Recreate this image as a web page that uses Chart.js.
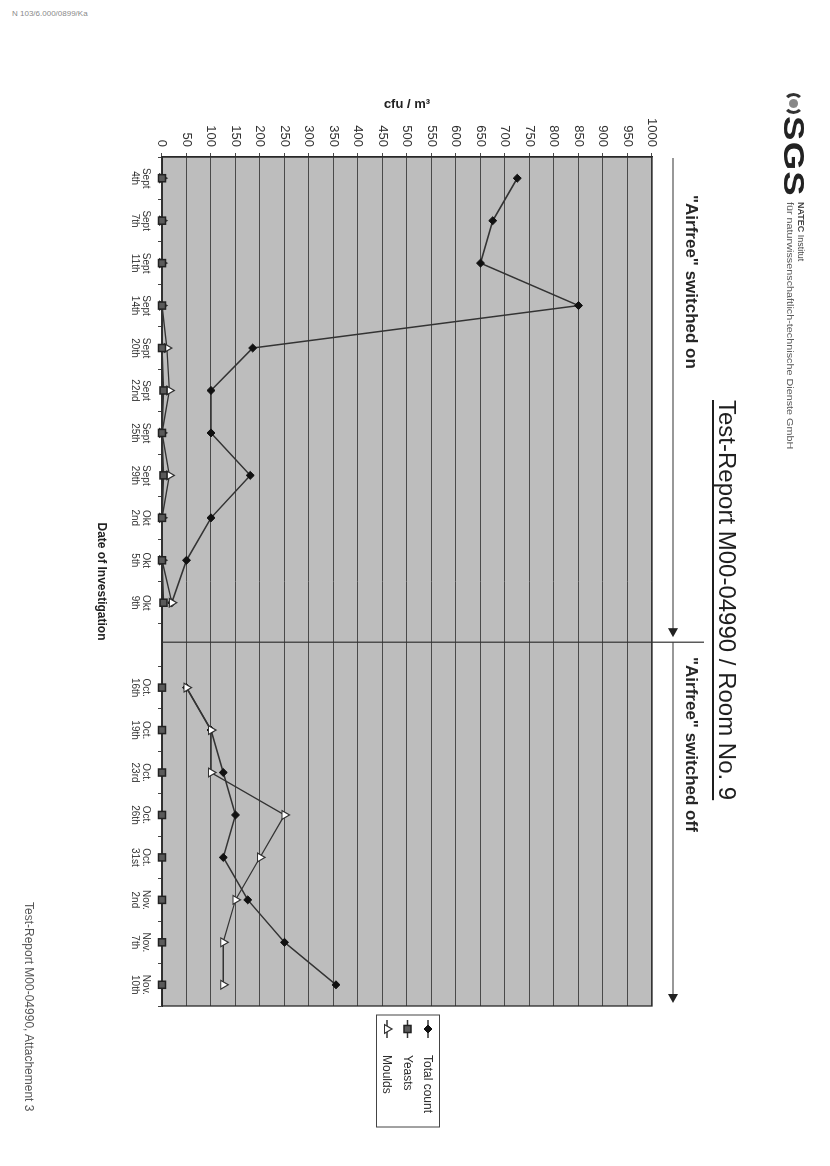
<!DOCTYPE html>
<html>
<head>
<meta charset="utf-8">
<script src="https://cdn.jsdelivr.net/npm/chart.js@4/dist/chart.umd.min.js"></script>
<style>
  html, body { margin:0; padding:0; background:#fff; }
  body { width:830px; height:1166px; overflow:hidden; position:relative; font-family:'Liberation Sans', Arial, sans-serif; }
  #fax { position:absolute; left:12px; top:9px; font-size:8px; color:#8a8a8a; white-space:nowrap; }
  #land { position:absolute; left:0; top:0; width:1166px; height:830px; transform-origin:0 0; transform:translate(830px,0) rotate(90deg); }
  #land canvas { position:absolute; left:0; top:0; }
  .t { position:absolute; white-space:nowrap; color:#1e1e1e; }
  #title { left:400px; top:91px; font-size:24px; line-height:24px; text-decoration:underline; text-underline-offset:5px; text-decoration-thickness:1.5px; }
  #on { left:195px; top:130px; font-size:17px; line-height:17px; font-weight:bold; color:#262626; }
  #off { left:657px; top:130px; font-size:17px; line-height:17px; font-weight:bold; color:#262626; }
  #foot { left:902px; top:795px; font-size:12px; line-height:12px; color:#555; }
  #sgs { left:116px; top:21px; font-size:30px; line-height:30px; font-weight:900; letter-spacing:1px; transform-origin:0 0; transform:scaleX(1.22); color:#222; }
  #natec { left:202px; top:25px; font-size:9px; line-height:9px; color:#444; }
  #natec b { font-weight:bold; }
  #fur { left:202px; top:36px; font-size:9px; line-height:9px; color:#555; transform-origin:0 0; transform:scaleX(1.2); }
  #icon { position:absolute; left:93px; top:26px; width:15px; height:15px; border-radius:50%; border:3px solid #333; border-top-color:transparent; border-bottom-color:transparent; }
  #icon::after { content:''; position:absolute; left:3px; top:3px; width:9px; height:9px; border-radius:50%; background:#888; }
</style>
</head>
<body>
<div id="fax">N 103/6.000/0899/Ka</div>
<div id="land">
  <canvas id="c" width="1166" height="830" style="width:1166px;height:830px"></canvas>
  <div id="icon"></div>
  <div class="t" id="sgs">SGS</div>
  <div class="t" id="natec"><b>NATEC</b> Institut</div>
  <div class="t" id="fur">für naturwissenschaftlich-technische Dienste GmbH</div>
  <div class="t" id="title">Test-Report M00-04990 / Room No. 9</div>
  <div class="t" id="on">"Airfree" switched on</div>
  <div class="t" id="off">"Airfree" switched off</div>
  <div class="t" id="foot">Test-Report M00-04990, Attachement 3</div>
</div>
<script>
// ---- data ----
const months = ['Sept','Sept','Sept','Sept','Sept','Sept','Sept','Sept','Okt','Okt','Okt','','Oct.','Oct.','Oct.','Oct.','Oct.','Nov.','Nov.','Nov.'];
const days   = ['4th','7th','11th','14th','20th','22nd','25th','29th','2nd','5th','9th','','16th','19th','23rd','26th','31st','2nd','7th','10th'];
const totalCount = [725, 675, 650, 850, 185, 100, 100, 180, 100, 50, 20, null, 50, 100, 125, 150, 125, 175, 250, 355];
const yeasts     = [0, 0, 0, 0, 0, 3, 0, 3, 0, 0, 3, null, 0, 0, 0, 0, 0, 0, 0, 0];
const moulds     = [0, 0, 0, 0, 10, 15, 0, 15, 0, 0, 20, null, 50, 100, 100, 250, 200, 150, 125, 125];
const valueTicks = [0,50,100,150,200,250,300,350,400,450,500,550,600,650,700,750,800,850,900,950,1000];
const switchIndex = 10.93; // divider between "switched on" and "switched off"

const labels = months.map((m, i) => [m, days[i]]);
const FONT = "'Liberation Sans', Arial, sans-serif";

function marker(ctx, style, x, y, r, fill, stroke, lw) {
  ctx.save();
  ctx.beginPath();
  if (style === 'rectRot') {
    ctx.moveTo(x, y - r); ctx.lineTo(x + r, y); ctx.lineTo(x, y + r); ctx.lineTo(x - r, y); ctx.closePath();
  } else if (style === 'rect') {
    const s = r * Math.SQRT1_2; ctx.rect(x - s, y - s, 2 * s, 2 * s);
  } else if (style === 'triangle') {
    ctx.moveTo(x, y - r); ctx.lineTo(x + r * 0.866, y + r * 0.5); ctx.lineTo(x - r * 0.866, y + r * 0.5); ctx.closePath();
  } else {
    ctx.arc(x, y, r, 0, Math.PI * 2);
  }
  ctx.fillStyle = fill; ctx.fill();
  ctx.lineWidth = lw; ctx.strokeStyle = stroke; ctx.stroke();
  ctx.restore();
}

const framePlugin = {
  id: 'frame',
  beforeDraw(chart) {
    const {ctx, chartArea: a} = chart;
    ctx.save();
    ctx.fillStyle = '#bdbdbd';
    ctx.fillRect(a.left, a.top, a.right - a.left, a.bottom - a.top);
    ctx.restore();
  },
  beforeDatasetsDraw(chart) {
    const {ctx, chartArea: a} = chart;
    ctx.save();
    ctx.strokeStyle = '#2a2a2a'; ctx.lineWidth = 1.3;
    ctx.strokeRect(a.left, a.top, a.right - a.left, a.bottom - a.top);
    ctx.restore();
  },
  afterDraw(chart) {
    const {ctx, chartArea: a} = chart;
    const xs = chart.scales.x;
    const du = xs.getPixelForValue(switchIndex);
    const av = a.top - 21;
    ctx.save();
    ctx.strokeStyle = '#333'; ctx.fillStyle = '#222'; ctx.lineWidth = 1.2;
    // divider
    ctx.beginPath(); ctx.moveTo(du, a.bottom); ctx.lineTo(du, a.top - 52); ctx.stroke();
    function arrow(u0, u1) {
      ctx.beginPath(); ctx.moveTo(u0, av); ctx.lineTo(u1 - 6, av); ctx.stroke();
      ctx.beginPath(); ctx.moveTo(u1, av); ctx.lineTo(u1 - 9, av - 5); ctx.lineTo(u1 - 9, av + 5); ctx.closePath(); ctx.fill();
    }
    arrow(a.left + 1, du - 5);
    arrow(du, a.right - 3);
    // legend
    const items = chart.data.datasets;
    const bx = a.right + 9, bw = 112, cy = (a.top + a.bottom) / 2, bh = 63, by = cy - bh / 2 - 1;
    ctx.fillStyle = '#fff';
    ctx.fillRect(bx, by, bw, bh);
    ctx.strokeStyle = '#444'; ctx.lineWidth = 1;
    ctx.strokeRect(bx, by, bw, bh);
    items.forEach((d, i) => {
      const y = by + 11.5 + i * 20.5;
      ctx.strokeStyle = '#333'; ctx.lineWidth = 1.5;
      ctx.beginPath(); ctx.moveTo(bx + 5, y); ctx.lineTo(bx + 23, y); ctx.stroke();
      marker(ctx, d.pointStyle, bx + 14, y, d.pointRadius, d.pointBackgroundColor, d.pointBorderColor, d.pointBorderWidth);
      ctx.fillStyle = '#2a2a2a';
      ctx.font = '12px ' + FONT;
      ctx.textAlign = 'left'; ctx.textBaseline = 'middle';
      ctx.fillText(d.label, bx + 40, y + 0.5);
    });
    ctx.restore();
  }
};

new Chart(document.getElementById('c'), {
  type: 'line',
  data: {
    labels: labels,
    datasets: [
      { label: 'Total count', data: totalCount, borderColor: '#333', borderWidth: 1.5,
        pointStyle: 'rectRot', pointRadius: 4, pointBackgroundColor: '#111', pointBorderColor: '#111', pointBorderWidth: 1,
        tension: 0, spanGaps: false, clip: false, order: 2 },
      { label: 'Yeasts', data: yeasts, borderColor: '#333', borderWidth: 1.5,
        pointStyle: 'rect', pointRadius: 5, pointBackgroundColor: '#5a5a5a', pointBorderColor: '#222', pointBorderWidth: 1.5,
        tension: 0, spanGaps: false, clip: false, order: 0 },
      { label: 'Moulds', data: moulds, borderColor: '#333', borderWidth: 1.3,
        pointStyle: 'triangle', pointRadius: 5, pointBackgroundColor: '#fff', pointBorderColor: '#333', pointBorderWidth: 1.2,
        tension: 0, spanGaps: false, clip: false, order: 1 }
    ]
  },
  options: {
    responsive: false,
    animation: false,
    layout: { padding: { left: 97, top: 178, right: 160, bottom: 92 } },
    plugins: { legend: { display: false }, tooltip: { enabled: false } },
    scales: {
      x: {
        type: 'category', offset: true,
        grid: { display: true, drawOnChartArea: false, drawTicks: true, tickLength: 4, color: '#444', offset: true },
        border: { display: true, color: '#2a2a2a', width: 1.3 },
        ticks: { autoSkip: false, maxRotation: 0, minRotation: 0, padding: 6, color: '#333',
                 font: { family: FONT, size: 10, lineHeight: 1.15 } },
        title: { display: true, text: 'Date of Investigation', color: '#222',
                 font: { family: FONT, size: 12, weight: 'bold' }, padding: { top: 4, bottom: 2 } },
        afterFit(s) { s.height = 70; }
      },
      y: {
        min: 0, max: 1000,
        afterBuildTicks(s) { s.ticks = valueTicks.map(v => ({ value: v })); },
        ticks: { autoSkip: false, padding: 6, color: '#333', font: { family: FONT, size: 13 },
                 callback: (v) => String(v) },
        grid: { color: '#4a4a4a', lineWidth: 1, drawTicks: true, tickLength: 4 },
        border: { display: true, color: '#2a2a2a', width: 1.3 },
        title: { display: true, text: 'cfu / m³', color: '#222',
                 font: { family: FONT, size: 13, weight: 'bold' }, padding: { top: 0, bottom: 0 } },
        afterFit(s) { s.width = 60; }
      }
    }
  },
  plugins: [framePlugin]
});
</script>
</body>
</html>
